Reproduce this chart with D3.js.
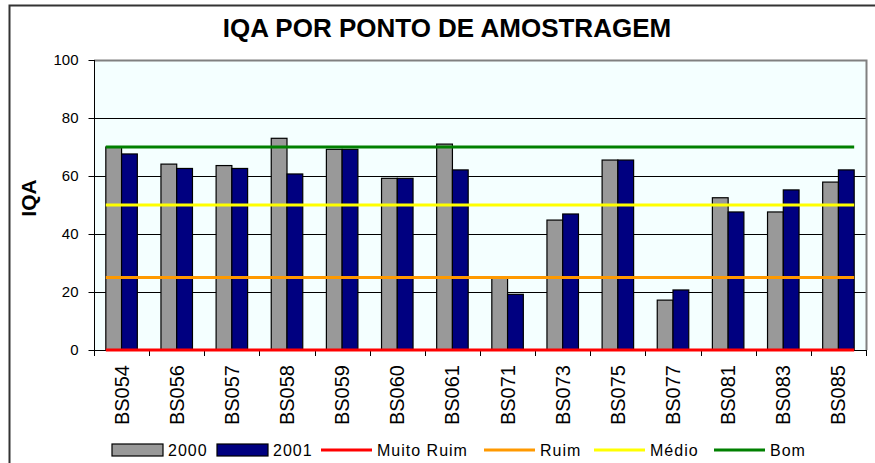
<!DOCTYPE html>
<html>
<head>
<meta charset="utf-8">
<script src="https://cdn.jsdelivr.net/npm/d3@7"></script>
<style>
  body { margin: 0; background: #fff; }
  svg { display: block; font-family: Arial, "Liberation Sans", sans-serif; }
</style>
</head>
<body>
<script>
// data
var categories = ["BS054", "BS056", "BS057", "BS058", "BS059", "BS060", "BS061",
                  "BS071", "BS073", "BS075", "BS077", "BS081", "BS083", "BS085"];
var values2000 = [70, 64.1, 63.6, 73, 69.2, 59.2, 71, 25.1, 44.8, 65.5, 17.2, 52.5, 47.6, 57.9];
var values2001 = [67.6, 62.6, 62.6, 60.7, 69.2, 59.2, 62.1, 19.2, 46.9, 65.5, 20.7, 47.6, 55.2, 62.1];
var seriesNames = ["2000", "2001"];
var seriesColors = ["#999999", "#000080"];
var refNames = ["Muito Ruim", "Ruim", "Médio", "Bom"];
var refValues = [0, 25, 50, 70];
var refColors = ["#ff0000", "#ff9900", "#ffff00", "#008000"];
var yTicks = [0, 20, 40, 60, 80, 100];

var W = 875, H = 463;
var plot = {left: 94, right: 866, top: 60, bottom: 350};

var svg = d3.select("body").append("svg")
    .attr("width", W)
    .attr("height", H);

// outer frame (cropped on right and bottom)
svg.append("path")
    .attr("d", "M9.5," + H + "V5.5H" + (W + 2))
    .attr("fill", "none")
    .attr("stroke", "#333")
    .attr("stroke-width", 2);

svg.append("text")
    .attr("x", 447)
    .attr("y", 37)
    .attr("text-anchor", "middle")
    .attr("font-size", 26)
    .attr("font-weight", "bold")
    .text("IQA POR PONTO DE AMOSTRAGEM");

var x = d3.scaleBand().domain(categories).range([plot.left, plot.right]);
var y = d3.scaleLinear().domain([0, 100]).range([plot.bottom, plot.top]);
var bw = x.bandwidth() / 3.5;
var off = (x.bandwidth() - 2 * bw) / 2;

// plot background
svg.append("rect")
    .attr("x", plot.left)
    .attr("y", plot.top)
    .attr("width", plot.right - plot.left)
    .attr("height", plot.bottom - plot.top)
    .attr("fill", "#f4ffff");

// grid lines
svg.append("g").selectAll("line")
    .data(yTicks.filter(function(d) { return d > 0 && d < 100; }))
  .enter().append("line")
    .attr("x1", plot.left).attr("x2", plot.right)
    .attr("y1", function(d) { return Math.round(y(d)) + 0.5; })
    .attr("y2", function(d) { return Math.round(y(d)) + 0.5; })
    .attr("stroke", "#000");

// plot border top / right
svg.append("path")
    .attr("d", "M" + plot.left + "," + (plot.top + 0.5) + "H" + (plot.right + 0.5) + "V" + plot.bottom)
    .attr("fill", "none")
    .attr("stroke", "#808080")
    .attr("stroke-width", 2);

// y axis
var yAxis = svg.append("g")
    .attr("transform", "translate(" + (plot.left + 0.5) + ",0)")
    .call(d3.axisLeft(y).tickValues(yTicks).tickSize(6).tickPadding(10));
yAxis.select(".domain").attr("d", "M0," + plot.top + "V" + (plot.bottom + 6));
yAxis.selectAll("text").attr("font-size", 15).attr("fill", "#000").attr("font-family", "Arial, 'Liberation Sans', sans-serif");

svg.append("text")
    .attr("transform", "translate(36,198) rotate(-90)")
    .attr("text-anchor", "middle")
    .attr("font-size", 21)
    .attr("font-weight", "bold")
    .text("IQA");

// x axis: ticks at category boundaries
var xAxis = svg.append("g");
xAxis.append("line")
    .attr("x1", plot.left).attr("x2", plot.right)
    .attr("y1", plot.bottom + 0.5).attr("y2", plot.bottom + 0.5)
    .attr("stroke", "#000");
xAxis.selectAll(".tk")
    .data(categories.concat(["end"]))
  .enter().append("line")
    .attr("class", "tk")
    .attr("x1", function(d, i) { return Math.round(plot.left + i * x.step()) + 0.5; })
    .attr("x2", function(d, i) { return Math.round(plot.left + i * x.step()) + 0.5; })
    .attr("y1", plot.bottom)
    .attr("y2", plot.bottom + 6)
    .attr("stroke", "#000");
xAxis.selectAll(".lbl")
    .data(categories)
  .enter().append("text")
    .attr("class", "lbl")
    .attr("transform", function(d) {
      return "translate(" + (x(d) + x.bandwidth() / 2 + 7) + ",365) rotate(-90)";
    })
    .attr("text-anchor", "end")
    .attr("font-size", 20)
    .text(function(d) { return d; });

// bars
[values2000, values2001].forEach(function(vals, s) {
  svg.append("g").selectAll("rect")
      .data(vals)
    .enter().append("rect")
      .attr("x", function(d, i) { return x(categories[i]) + off + s * bw; })
      .attr("y", function(d) { return y(d); })
      .attr("width", bw)
      .attr("height", function(d) { return y(0) - y(d); })
      .attr("fill", seriesColors[s])
      .attr("stroke", "#000")
      .attr("stroke-width", 1.2);
});

// reference lines
var lx1 = x(categories[0]) + off;
var lx2 = x(categories[categories.length - 1]) + off + 2 * bw;
svg.append("g").selectAll("line")
    .data(refValues)
  .enter().append("line")
    .attr("x1", lx1).attr("x2", lx2)
    .attr("y1", function(d) { return y(d); })
    .attr("y2", function(d) { return y(d); })
    .attr("stroke", function(d, i) { return refColors[i]; })
    .attr("stroke-width", 3);

// legend
var legend = svg.append("g").attr("font-size", 16).attr("letter-spacing", 1);
var lgX = [112, 217, 321, 484, 594, 714];
seriesNames.forEach(function(n, i) {
  legend.append("rect")
      .attr("x", lgX[i]).attr("y", 444)
      .attr("width", 51).attr("height", 12)
      .attr("fill", seriesColors[i])
      .attr("stroke", "#000")
      .attr("stroke-width", 1.2);
  legend.append("text")
      .attr("x", lgX[i] + 56).attr("y", 456)
      .text(n);
});
refNames.forEach(function(n, i) {
  var lx = lgX[i + 2];
  legend.append("line")
      .attr("x1", lx).attr("x2", lx + 51)
      .attr("y1", 450).attr("y2", 450)
      .attr("stroke", refColors[i])
      .attr("stroke-width", 3);
  legend.append("text")
      .attr("x", lx + 56).attr("y", 456)
      .text(n);
});
</script>
</body>
</html>
